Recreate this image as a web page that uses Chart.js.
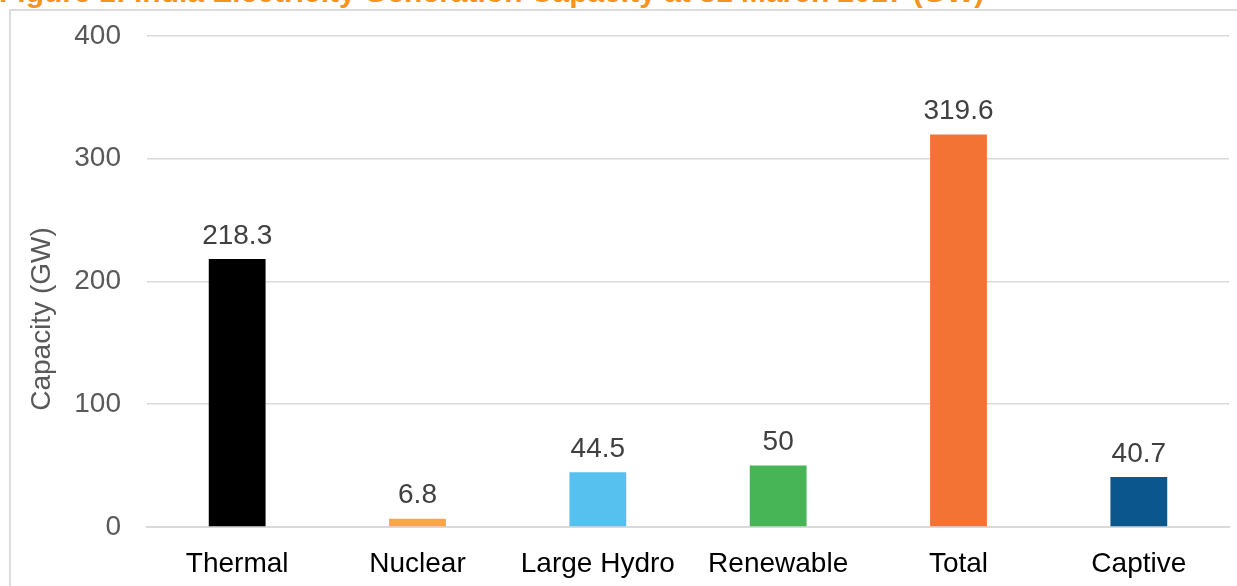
<!DOCTYPE html>
<html>
<head>
<meta charset="utf-8">
<script src="https://cdn.jsdelivr.net/npm/chart.js@4"></script>
<style>
  body { margin: 0; background: #fff; overflow: hidden; }
  #wrap { position: relative; width: 1237px; height: 586px; overflow: hidden; }
  #frame { position: absolute; left: 9px; top: 9px; right: 0; bottom: 0;
           border-left: 2px solid #dcdcdc; border-top: 2px solid #dcdcdc; }
  #title { position: absolute; left: -1px; top: -25px; white-space: nowrap;
           font: bold 30px "Liberation Sans", Arial, sans-serif; color: #f7941d; }
  canvas { position: absolute; left: 0; top: -7px; }
</style>
</head>
<body>
<div id="wrap">
  <div id="frame"></div>
  <div id="title">Figure 1: India Electricity Generation Capacity at 31 March 2017 (GW)</div>
  <canvas id="chart" width="1237" height="593"></canvas>
</div>
<script>
const categories = ["Thermal", "Nuclear", "Large Hydro", "Renewable", "Total", "Captive"];
const capacity = [218.3, 6.8, 44.5, 50, 319.6, 40.7];
const barColors = ["#000000", "#f9a64a", "#56c1ee", "#47b555", "#f37335", "#0b568d"];
const yTicks = [0, 100, 200, 300, 400];
const yTitle = "Capacity (GW)";

const font = "'Liberation Sans', Arial, sans-serif";

// values above bars + rotated y title
const labelsPlugin = {
  id: "labels",
  afterDatasetsDraw(chart) {
    const ctx = chart.ctx;
    const meta = chart.getDatasetMeta(0);
    ctx.save();
    ctx.font = "28px " + font;
    ctx.fillStyle = "#404040";
    ctx.textAlign = "center";
    ctx.textBaseline = "bottom";
    meta.data.forEach((bar, i) => {
      ctx.fillText(String(capacity[i]), bar.x, bar.y - 9);
    });
    ctx.translate(42, 326);
    ctx.rotate(-Math.PI / 2);
    ctx.fillStyle = "#595959";
    ctx.textBaseline = "middle";
    ctx.fillText(yTitle, 0, 0);
    ctx.restore();
  }
};

new Chart(document.getElementById("chart"), {
  type: "bar",
  data: {
    labels: categories,
    datasets: [{
      data: capacity,
      backgroundColor: barColors,
      categoryPercentage: 1,
      barPercentage: 0.315
    }]
  },
  options: {
    responsive: false,
    animation: false,
    layout: { padding: { top: 28, right: 8, left: 0, bottom: 0 } },
    plugins: { legend: { display: false }, tooltip: { enabled: false } },
    scales: {
      x: {
        grid: { display: false, drawTicks: false },
        border: { display: true, color: "#d9d9d9", width: 2 },
        ticks: { color: "#000", font: { family: font, size: 28 }, padding: 20, maxRotation: 0 },
        afterFit(s) { s.height = 59; }
      },
      y: {
        min: 0, max: 400,
        afterBuildTicks(s) { s.ticks = yTicks.map(v => ({ value: v })); },
        grid: { color: "#d9d9d9", lineWidth: 1.5, drawTicks: false },
        border: { display: false },
        ticks: { color: "#595959", font: { family: font, size: 28 }, padding: 26 },
        afterFit(s) { s.width = 147; }
      }
    }
  },
  plugins: [labelsPlugin]
});
</script>
</body>
</html>
